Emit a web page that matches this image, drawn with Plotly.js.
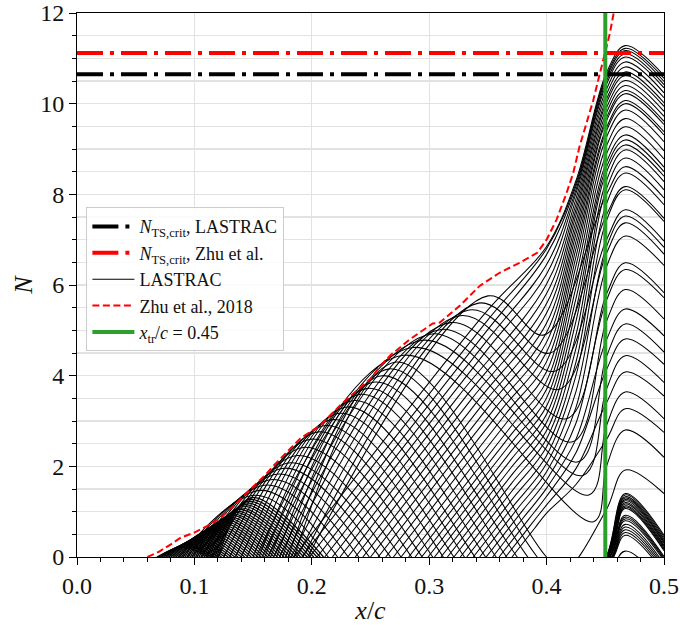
<!DOCTYPE html>
<html>
<head>
<meta charset="utf-8">
<script src="https://cdn.plot.ly/plotly-3.0.1.min.js"></script>
<style>
html,body{margin:0;padding:0;background:#fff;}
#chart{width:680px;height:625px;}
</style>
</head>
<body>
<div id="chart"></div>
<script>
// ---------------- Data ----------------
const nCritLastrac = 10.65;
const nCritZhu = 11.12;
const xTransition = 0.45;

// Zhu et al., 2018 envelope (red dashed)
const zhuX = [0.060, 0.070, 0.080, 0.088, 0.100, 0.112, 0.122, 0.133, 0.148, 0.160, 0.167, 0.182, 0.190, 0.207, 0.224, 0.236, 0.250, 0.258, 0.267, 0.284, 0.297, 0.303, 0.309, 0.326, 0.343, 0.360, 0.377, 0.392, 0.400, 0.4085, 0.417, 0.4227, 0.428, 0.434, 0.4397, 0.4453, 0.4496, 0.4538, 0.4575];
const zhuN = [0.00, 0.12, 0.28, 0.42, 0.54, 0.70, 0.86, 1.12, 1.50, 1.80, 2.00, 2.40, 2.61, 2.90, 3.34, 3.62, 3.93, 4.20, 4.45, 4.81, 5.05, 5.15, 5.17, 5.54, 5.98, 6.27, 6.49, 6.71, 7.00, 7.44, 8.03, 8.47, 9.05, 9.56, 10.07, 10.66, 11.10, 11.54, 12.05];

// Key stations of the LASTRAC N-factor curves near the bubble
const riseX = 0.451;
const bumpX = 0.467;
const endX = 0.5;

// Group A: early high-frequency curves (decay below N = 0)
const aStartX = [0.0680, 0.0695, 0.0710, 0.0725, 0.0740, 0.0755, 0.0770, 0.0785, 0.0800, 0.0815, 0.0830, 0.0845, 0.0860, 0.0875, 0.0890, 0.0905, 0.0920, 0.0935, 0.0950, 0.0965, 0.0980, 0.0995, 0.1010, 0.1025, 0.1040, 0.1055, 0.1070, 0.1085, 0.1100, 0.1115, 0.1130, 0.1145, 0.1160, 0.1175, 0.1190, 0.1205];
const aPeakX  = [0.0900, 0.0917, 0.0933, 0.0950, 0.0967, 0.0983, 0.1000, 0.1017, 0.1033, 0.1050, 0.1067, 0.1083, 0.1100, 0.1117, 0.1133, 0.1150, 0.1167, 0.1183, 0.1200, 0.1217, 0.1233, 0.1250, 0.1267, 0.1283, 0.1300, 0.1317, 0.1333, 0.1350, 0.1367, 0.1383, 0.1400, 0.1417, 0.1433, 0.1450, 0.1467, 0.1483];
const aPeakN  = [0.22, 0.25, 0.27, 0.30, 0.33, 0.35, 0.38, 0.41, 0.44, 0.47, 0.50, 0.53, 0.56, 0.59, 0.62, 0.65, 0.68, 0.71, 0.74, 0.77, 0.80, 0.83, 0.86, 0.89, 0.92, 0.95, 0.98, 1.01, 1.05, 1.08, 1.12, 1.15, 1.19, 1.23, 1.27, 1.31];
const aZeroX  = [0.1120, 0.1148, 0.1176, 0.1204, 0.1232, 0.1260, 0.1288, 0.1316, 0.1344, 0.1372, 0.1400, 0.1428, 0.1456, 0.1484, 0.1512, 0.1540, 0.1568, 0.1596, 0.1624, 0.1652, 0.1680, 0.1708, 0.1736, 0.1764, 0.1792, 0.1820, 0.1848, 0.1876, 0.1904, 0.1932, 0.1960, 0.1988, 0.2016, 0.2044, 0.2072, 0.2100];

// Group B: decay below zero, re-amplified in the bubble (bottom-right cluster)
const bStartX = [0.087, 0.090, 0.094, 0.098, 0.102, 0.106, 0.110, 0.115, 0.120, 0.125, 0.130, 0.135, 0.140, 0.145, 0.150, 0.155, 0.160, 0.165, 0.170, 0.175, 0.180, 0.185];
const bPeakX  = [0.152, 0.157, 0.162, 0.167, 0.172, 0.177, 0.182, 0.188, 0.194, 0.200, 0.206, 0.212, 0.218, 0.224, 0.230, 0.236, 0.242, 0.248, 0.254, 0.260, 0.266, 0.272];
const bPeakN  = [1.36, 1.47, 1.59, 1.71, 1.83, 1.96, 2.08, 2.24, 2.42, 2.60, 2.76, 2.90, 3.03, 3.17, 3.31, 3.45, 3.59, 3.72, 3.86, 4.00, 4.15, 4.30];
const bZeroX  = [0.214, 0.222, 0.231, 0.240, 0.249, 0.258, 0.267, 0.276, 0.285, 0.294, 0.303, 0.312, 0.321, 0.330, 0.339, 0.348, 0.357, 0.366, 0.375, 0.384, 0.392, 0.400];
const bMinX   = [0.249, 0.257, 0.266, 0.275, 0.284, 0.293, 0.302, 0.311, 0.320, 0.329, 0.338, 0.347, 0.356, 0.365, 0.374, 0.383, 0.392, 0.401, 0.410, 0.417, 0.424, 0.415];
const bMinN   = [-2.0, -2.0, -2.0, -2.0, -2.0, -1.9, -1.9, -1.9, -1.9, -1.8, -1.8, -1.8, -1.7, -1.7, -1.6, -1.6, -1.5, -1.4, -1.3, -1.2, -1.0, -0.3];
const bRiseN  = [-0.35, -0.22, -0.20, -0.18, -0.16, -0.14, -0.10, -0.09, -0.08, -0.07, -0.04, -0.04, -0.03, -0.03, -0.02, -0.02, -0.01, 0.00, 0.00, 0.01, 0.02, 1.05];
const bBumpN  = [0.13, 0.48, 0.54, 0.60, 0.66, 0.72, 0.80, 0.84, 0.88, 0.92, 1.07, 1.10, 1.13, 1.17, 1.20, 1.24, 1.27, 1.30, 1.33, 1.37, 1.40, 1.92];
const bEndN   = [-0.60, -0.35, -0.30, -0.25, -0.20, -0.15, -0.08, -0.05, -0.02, 0.01, 0.14, 0.17, 0.20, 0.23, 0.26, 0.30, 0.33, 0.36, 0.40, 0.44, 0.48, 1.40];

// Group C: U-shaped curves (positive minimum before the bubble)
const cStartX = [0.1525, 0.1575, 0.1625, 0.1675, 0.1725, 0.1775, 0.1825, 0.1875, 0.1925, 0.1965];
const cPeakX  = [0.278, 0.286, 0.294, 0.302, 0.310, 0.318, 0.326, 0.334, 0.342, 0.350];
const cPeakN  = [4.45, 4.62, 4.78, 4.92, 5.02, 5.17, 5.32, 5.45, 5.60, 5.76];
const cMinX   = [0.440, 0.436, 0.431, 0.427, 0.422, 0.417, 0.411, 0.407, 0.403, 0.398];
const cMinN   = [0.78, 1.37, 1.80, 2.10, 2.54, 3.05, 3.70, 4.10, 4.50, 4.90];
const cRiseN  = [2.00, 2.90, 3.70, 4.42, 5.20, 5.80, 6.70, 7.00, 7.55, 8.00];
const cBumpN  = [2.80, 3.64, 4.44, 5.14, 5.90, 6.49, 7.37, 7.66, 8.17, 8.61];
const cEndN   = [2.20, 3.05, 3.85, 4.52, 5.25, 5.83, 6.68, 6.97, 7.47, 7.92];

// Group R: low-frequency curves growing monotonically into the bubble
const rStartX = [0.185, 0.1915, 0.198, 0.2045, 0.211, 0.2175, 0.224, 0.2305, 0.237, 0.2435, 0.250, 0.2565, 0.263, 0.2695, 0.276, 0.2825, 0.288, 0.2935, 0.299, 0.3045, 0.310, 0.3155, 0.321, 0.3265, 0.332, 0.3375, 0.343, 0.3485, 0.354, 0.3595, 0.365, 0.3705];
const rMidX   = [0.350, 0.350, 0.350, 0.350, 0.350, 0.325, 0.330, 0.335, 0.340, 0.345, 0.350, 0.355, 0.360, 0.365, 0.370, 0.370, 0.370, 0.370, 0.370, 0.370, 0.370, 0.370, 0.370, 0.370, 0.370, 0.370, 0.375, 0.380, 0.380, 0.385, 0.385, 0.390];
const rMidN   = [5.45, 5.23, 5.02, 4.80, 4.59, 3.55, 3.50, 3.45, 3.40, 3.35, 3.30, 3.25, 3.20, 3.15, 3.10, 2.89, 2.71, 2.52, 2.34, 2.16, 1.98, 1.80, 1.62, 1.44, 1.25, 1.07, 1.06, 1.04, 0.86, 0.84, 0.66, 0.64];
const rN40    = [6.85, 6.80, 6.67, 6.45, 6.24, 6.02, 5.81, 5.59, 5.38, 5.16, 4.95, 4.74, 4.52, 4.31, 4.09, 3.88, 3.70, 3.51, 3.33, 3.15, 2.97, 2.79, 2.61, 2.43, 2.24, 2.06, 1.88, 1.70, 1.52, 1.34, 1.15, 0.97];
const rN425   = [8.30, 8.24, 8.18, 8.10, 8.02, 7.90, 7.78, 7.66, 7.54, 7.40, 7.26, 7.12, 6.96, 6.80, 6.62, 6.42, 6.20, 5.95, 5.70, 5.45, 5.20, 4.90, 4.60, 4.30, 4.00, 3.65, 3.30, 2.95, 2.60, 2.30, 1.95, 1.60];
const rRiseN  = [10.68, 10.62, 10.57, 10.50, 10.43, 10.32, 10.21, 10.10, 10.02, 9.91, 9.80, 9.69, 9.62, 9.47, 9.40, 9.26, 9.07, 8.89, 8.71, 8.60, 8.49, 8.30, 8.12, 7.79, 7.42, 6.84, 6.40, 5.66, 4.79, 4.13, 3.40, 2.59];
const rBumpN  = [11.28, 11.22, 11.17, 11.10, 11.03, 10.92, 10.81, 10.70, 10.62, 10.51, 10.40, 10.29, 10.22, 10.07, 10.00, 9.86, 9.67, 9.49, 9.31, 9.20, 9.09, 8.98, 8.80, 8.47, 8.10, 7.52, 7.08, 6.34, 5.47, 4.81, 4.08, 3.27];
const rEndN   = [10.62, 10.56, 10.49, 10.42, 10.35, 10.24, 10.13, 10.02, 9.94, 9.83, 9.72, 9.61, 9.54, 9.38, 9.31, 9.16, 8.96, 8.78, 8.60, 8.50, 8.40, 8.28, 8.10, 7.77, 7.40, 6.83, 6.43, 5.72, 4.88, 4.25, 3.55, 2.75];

// ---------------- LASTRAC traces: key points smoothed by Plotly's spline ----------------
function makeCollector() { return {x: [], y: []}; }
function addCurve(col, xs, ys) {
  for (let i = 0; i < xs.length; i++) { col.x.push(xs[i]); col.y.push(ys[i]); }
  col.x.push(null); col.y.push(null);
}
const early = makeCollector();
const rest = makeCollector();
aStartX.forEach((x0, i) => addCurve(early, [x0, aPeakX[i], aZeroX[i]], [0, aPeakN[i], 0]));
bStartX.forEach((x0, i) => addCurve(rest,
  [x0, bPeakX[i], bZeroX[i], bMinX[i], riseX, bumpX, endX],
  [0, bPeakN[i], 0, bMinN[i], bRiseN[i], bBumpN[i], bEndN[i]]));
cStartX.forEach((x0, i) => addCurve(rest,
  [x0, cPeakX[i], cMinX[i], riseX, bumpX, endX],
  [0, cPeakN[i], cMinN[i], cRiseN[i], cBumpN[i], cEndN[i]]));
rStartX.forEach((x0, i) => addCurve(rest,
  [x0, rMidX[i], 0.40, 0.425, riseX, bumpX, endX],
  [0, rMidN[i], rN40[i], rN425[i], rRiseN[i], rBumpN[i], rEndN[i]]));

const serif = 'Liberation Serif, DejaVu Serif, serif';

const traces = [
  {
    x: early.x, y: early.y, mode: 'lines', name: 'LASTRAC', showlegend: false,
    connectgaps: false, hoverinfo: 'skip',
    line: {color: '#000000', width: 1.3, shape: 'spline', smoothing: 1}
  },
  {
    x: rest.x, y: rest.y, mode: 'lines', name: 'LASTRAC', legendrank: 3,
    connectgaps: false,
    line: {color: '#000000', width: 1.05, shape: 'spline', smoothing: 1}
  },
  {
    x: zhuX, y: zhuN, mode: 'lines', name: 'Zhu et al., 2018', legendrank: 4,
    line: {color: '#ff0000', width: 2, dash: '7px,3.5px'}
  },
  {
    x: [0, 0.5], y: [nCritLastrac, nCritLastrac], mode: 'lines', legendrank: 1,
    name: '<i>N</i><sub>TS,crit</sub>, LASTRAC',
    line: {color: '#000000', width: 4, dash: '26px,7px,4px,7px'}
  },
  {
    x: [0, 0.5], y: [nCritZhu, nCritZhu], mode: 'lines', legendrank: 2,
    name: '<i>N</i><sub>TS,crit</sub>, Zhu et al.',
    line: {color: '#ff0000', width: 4, dash: '26px,7px,4px,7px'}
  },
  {
    x: [xTransition, xTransition], y: [0, 12], mode: 'lines', legendrank: 5,
    name: '<i>x</i><sub>tr</sub>/<i>c</i> = 0.45',
    line: {color: '#2ca02c', width: 4}
  }
];

const gridCol = '#e2e2e2';
const layout = {
  width: 680, height: 625,
  margin: {l: 77, r: 16, t: 13, b: 68},
  paper_bgcolor: '#ffffff', plot_bgcolor: '#ffffff',
  font: {family: serif, color: '#111111'},
  showlegend: true,
  legend: {
    x: 0.016, y: 0.643, xanchor: 'left', yanchor: 'top',
    bgcolor: 'rgba(255,255,255,0.85)', bordercolor: '#cccccc', borderwidth: 1,
    font: {family: serif, size: 18, color: '#111111'},
    itemwidth: 42, traceorder: 'normal'
  },
  xaxis: {
    range: [0, 0.5], tick0: 0, dtick: 0.1, tickformat: '.1f',
    ticks: 'outside', ticklen: 7, tickwidth: 1, tickcolor: '#000',
    showline: true, linecolor: '#000', linewidth: 1, mirror: true,
    showgrid: true, gridcolor: gridCol, gridwidth: 1.2, zeroline: false,
    tickfont: {family: serif, size: 24, color: '#111'},
    minor: {tick0: 0, dtick: 0.02, ticks: 'outside', ticklen: 4, tickcolor: '#000', showgrid: false},
    title: {text: '<i>x</i>/<i>c</i>', font: {family: serif, size: 26, color: '#111'}, standoff: 4}
  },
  yaxis: {
    range: [0, 12], tick0: 0, dtick: 2,
    ticks: 'outside', ticklen: 7, tickwidth: 1, tickcolor: '#000',
    showline: true, linecolor: '#000', linewidth: 1, mirror: true,
    showgrid: true, gridcolor: gridCol, gridwidth: 1.2, zeroline: false,
    tickfont: {family: serif, size: 24, color: '#111'},
    minor: {tick0: 0, dtick: 0.5, ticks: 'outside', ticklen: 4, tickcolor: '#000', showgrid: true, gridcolor: gridCol, gridwidth: 1.2},
    title: {text: '<i>N</i>', font: {family: serif, size: 26, color: '#111'}, standoff: 0}
  }
};

Plotly.newPlot('chart', traces, layout, {displayModeBar: false, staticPlot: true});
</script>
</body>
</html>
